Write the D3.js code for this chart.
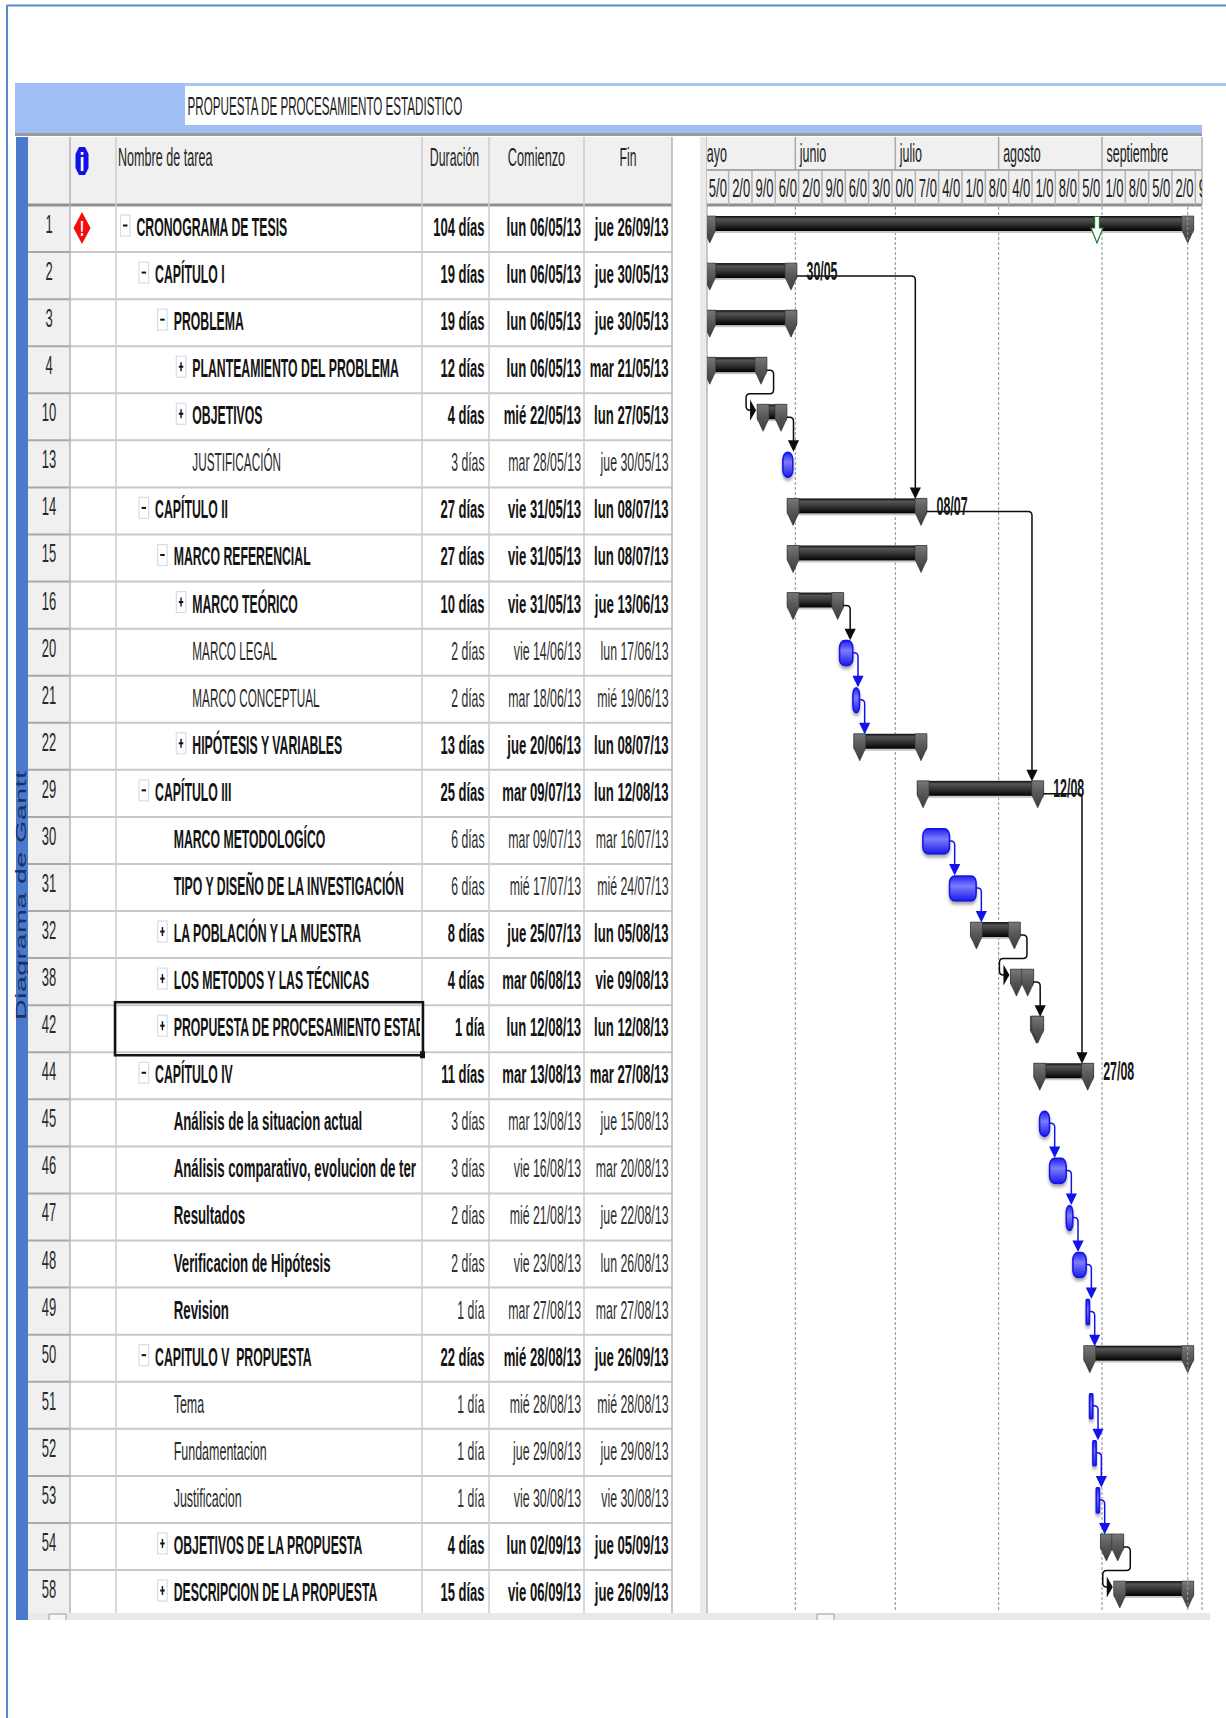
<!DOCTYPE html>
<html lang="es">
<head>
<meta charset="utf-8">
<title>Diagrama de Gantt</title>
<script src="https://cdn.jsdelivr.net/npm/d3@7/dist/d3.min.js"></script>
<style>
  html, body { margin: 0; background: #fff; }
  svg { display: block; }
  text { font-family: "Liberation Sans", Arial, sans-serif; }
</style>
</head>
<body>
<div id="chart"></div>
<script>
// Task table; two names are cut off by the width of their column
const taskIds = [1,2,3,4,10,13,14,15,16,20,21,22,29,30,31,32,38,42,44,45,46,47,48,49,50,51,52,53,54,58];
const taskNames = [
  "CRONOGRAMA DE TESIS","CAPÍTULO I","PROBLEMA","PLANTEAMIENTO DEL PROBLEMA","OBJETIVOS","JUSTIFICACIÓN",
  "CAPÍTULO II","MARCO REFERENCIAL","MARCO TEÓRICO","MARCO LEGAL","MARCO CONCEPTUAL","HIPÓTESIS Y VARIABLES",
  "CAPÍTULO III","MARCO METODOLOGÍCO","TIPO Y DISEÑO DE LA INVESTIGACIÓN","LA POBLACIÓN Y LA MUESTRA",
  "LOS METODOS Y LAS TÉCNICAS","PROPUESTA DE PROCESAMIENTO ESTAD","CAPÍTULO IV",
  "Análisis de la situacion actual","Análisis comparativo, evolucion de ter","Resultados",
  "Verificacion de Hipótesis","Revision","CAPITULO V\u00a0 PROPUESTA","Tema","Fundamentacion","Justificacion",
  "OBJETIVOS DE LA PROPUESTA","DESCRIPCION DE LA PROPUESTA"
];
const outlineLevels = [0,1,2,3,3,3,1,2,3,3,3,3,1,2,2,2,2,2,1,2,2,2,2,2,1,2,2,2,2,2];
const durations = [
  "104 días","19 días","19 días","12 días","4 días","3 días","27 días","27 días","10 días","2 días","2 días","13 días",
  "25 días","6 días","6 días","8 días","4 días","1 día","11 días","3 días","3 días","2 días","2 días","1 día",
  "22 días","1 día","1 día","1 día","4 días","15 días"
];
const startDates = [
  "lun 06/05/13","lun 06/05/13","lun 06/05/13","lun 06/05/13","mié 22/05/13","mar 28/05/13","vie 31/05/13","vie 31/05/13",
  "vie 31/05/13","vie 14/06/13","mar 18/06/13","jue 20/06/13","mar 09/07/13","mar 09/07/13","mié 17/07/13","jue 25/07/13",
  "mar 06/08/13","lun 12/08/13","mar 13/08/13","mar 13/08/13","vie 16/08/13","mié 21/08/13","vie 23/08/13","mar 27/08/13",
  "mié 28/08/13","mié 28/08/13","jue 29/08/13","vie 30/08/13","lun 02/09/13","vie 06/09/13"
];
const endDates = [
  "jue 26/09/13","jue 30/05/13","jue 30/05/13","mar 21/05/13","lun 27/05/13","jue 30/05/13","lun 08/07/13","lun 08/07/13",
  "jue 13/06/13","lun 17/06/13","mié 19/06/13","lun 08/07/13","lun 12/08/13","mar 16/07/13","mié 24/07/13","lun 05/08/13",
  "vie 09/08/13","lun 12/08/13","mar 27/08/13","jue 15/08/13","mar 20/08/13","jue 22/08/13","lun 26/08/13","mar 27/08/13",
  "jue 26/09/13","mié 28/08/13","jue 29/08/13","vie 30/08/13","jue 05/09/13","jue 26/09/13"
];
const summaryIds = [1,2,3,4,10,14,15,16,22,29,32,38,42,44,50,54,58];
const collapsedIds = [4,10,16,22,32,38,42,54,58];
const heavyNameIds = [30,31,45,46,47,48,49];
const mixedCaseIds = [45,46,47,48,49,51,52,53];
const finishLabelIds = [2,14,29,44];

// Dependency links
const linkFrom = [2,14,29, 4,10,16,20,21,30,31,32,38,45,46,47,48,49,51,52,53,54];
const linkTo   = [14,29,44,10,13,20,21,22,31,32,38,42,46,47,48,49,50,52,53,54,58];
const wrappedLinks = [[4,10],[32,38],[54,58]];
const longLinkSources = [2,14,29];

// Timescale
const deadlineDay = "30/08/13";
const projectFinishDay = "26/09/13";
const timelineStart = "01/06/13";
const timelineEnd = "01/10/13";
const monthNames = ["mayo","junio","julio","agosto","septiembre"];

// Table columns
const colEdges = {band0:16, band1:28, num:70, ind:116, name:422, dur:489, start:584, end:672, chart:707, chartEnd:1202};
const headTop = 137, headBottom = 205, rowStep = 47.07;
const TXT = 26;

const width = 1226, height = 1718;
const parseDay = d3.utcParse("%d/%m/%y");
const dayOf = s => parseDay(s.slice(-8));
const atHour = (d, h) => d3.utcHour.offset(d, h);

const x = d3.scaleUtc()
  .domain([parseDay(timelineStart), parseDay(timelineEnd)])
  .range([795.3, colEdges.chartEnd]);
const y = d3.scaleBand()
  .domain(taskIds)
  .range([headBottom, headBottom + rowStep * taskIds.length]);

const rows = taskIds.map((id, i) => ({
  id, i,
  name: taskNames[i], level: outlineLevels[i], dur: durations[i],
  startText: startDates[i], endText: endDates[i],
  start: atHour(dayOf(startDates[i]), 8),
  end: atHour(dayOf(endDates[i]), 17),
  summary: summaryIds.includes(id),
  collapsed: collapsedIds.includes(id)
}));
const byId = new Map(rows.map(r => [r.id, r]));

const svg = d3.select("#chart").append("svg").attr("width", width).attr("height", height)
  .attr("viewBox", `0 0 ${width} ${height}`);
const defs = svg.append("defs");

function gradient(id, stops) {
  const g = defs.append("linearGradient").attr("id", id).attr("x1", 0).attr("y1", 0).attr("x2", 0).attr("y2", 1);
  stops.forEach(([o, c]) => g.append("stop").attr("offset", o).attr("stop-color", c));
}
gradient("barBody", [[0,"#0a0a0a"],[0.2,"#555"],[0.55,"#333"],[0.85,"#111"],[1,"#000"]]);
gradient("barCap", [[0,"#777"],[0.5,"#555"],[1,"#3c3c3c"]]);
gradient("taskFill", [[0,"#2222ee"],[0.4,"#7c7cff"],[1,"#1a1ae6"]]);

const shadow = defs.append("filter").attr("id", "soft").attr("x", "-40%").attr("y", "-20%").attr("width", "180%").attr("height", "160%");
shadow.append("feDropShadow").attr("dx", 0).attr("dy", 3).attr("stdDeviation", 1.6).attr("flood-color", "#888").attr("flood-opacity", 0.7);

defs.append("clipPath").attr("id", "chartClip").append("rect")
  .attr("x", colEdges.chart).attr("y", headTop).attr("width", colEdges.chartEnd - colEdges.chart + 8).attr("height", height);
defs.append("clipPath").attr("id", "scaleClip").append("rect")
  .attr("x", colEdges.chart).attr("y", headTop).attr("width", colEdges.chartEnd - colEdges.chart).attr("height", headBottom - headTop);
defs.append("clipPath").attr("id", "nameClip").append("rect")
  .attr("x", colEdges.ind + 1).attr("y", headTop).attr("width", colEdges.name - colEdges.ind - 3).attr("height", height);

// Squeezed text: tall glyphs in narrow columns
function put(g, tx, ty, str, o = {}) {
  const weight = o.weight || 400;
  return g.append("text")
    .attr("transform", `translate(${tx},${ty}) scale(${o.sx || 0.46},1)`)
    .attr("text-anchor", o.anchor || "start")
    .attr("font-size", o.size || TXT)
    .attr("font-weight", weight)
    .attr("fill", o.fill || "#1c1c1c")
    .text(str);
}

// Window frame and title band
const frame = svg.append("g");
frame.append("line").attr("x1", 7).attr("x2", width).attr("y1", 5.5).attr("y2", 5.5).attr("stroke", "#5b8cc8").attr("stroke-width", 2);
frame.append("line").attr("x1", 7).attr("x2", 7).attr("y1", 5).attr("y2", height).attr("stroke", "#5b8cc8").attr("stroke-width", 2);
frame.append("rect").attr("x", 15).attr("y", 83).attr("width", 170).attr("height", 50).attr("fill", "#a0bff5");
frame.append("rect").attr("x", 185).attr("y", 83).attr("width", width - 185).attr("height", 3).attr("fill", "#a9c5f4");
frame.append("rect").attr("x", 185).attr("y", 125).attr("width", colEdges.chartEnd - 185).attr("height", 8).attr("fill", "#a0bff5");
frame.append("rect").attr("x", 15).attr("y", 133).attr("width", colEdges.chartEnd - 15).attr("height", 3).attr("fill", "#9a9a9a");
put(frame, 187.5, 115, "PROPUESTA DE PROCESAMIENTO ESTADISTICO", {sx: 0.448, fill: "#222"});

// Vertical view bar
frame.append("rect").attr("x", colEdges.band0).attr("y", headTop).attr("width", colEdges.band1 - colEdges.band0)
  .attr("height", 1620 - headTop).attr("fill", "#4a7acb");
frame.append("text")
  .attr("transform", "translate(25.5,1020) rotate(-90) scale(2.05,1)")
  .attr("font-size", 14).attr("fill", "#1a2f66").attr("letter-spacing", 0.2)
  .text("Diagrama de Gantt");

// Table
const table = svg.append("g");
const tableBottom = y.range()[1] + 1;
table.append("rect").attr("x", colEdges.band1).attr("y", headTop).attr("width", colEdges.end - colEdges.band1)
  .attr("height", headBottom - headTop).attr("fill", "#f0f0f0");
table.append("rect").attr("x", colEdges.band1).attr("y", headBottom).attr("width", colEdges.num - colEdges.band1)
  .attr("height", tableBottom - headBottom).attr("fill", "#f0f0f0");

const rowLines = table.selectAll(".rowline").data(rows.slice(1)).join("g");
rowLines.append("line").attr("x1", colEdges.num).attr("x2", colEdges.end)
  .attr("y1", d => y(d.id)).attr("y2", d => y(d.id)).attr("stroke", "#c9c9c9").attr("stroke-width", 2);
rowLines.append("line").attr("x1", colEdges.band1).attr("x2", colEdges.num)
  .attr("y1", d => y(d.id)).attr("y2", d => y(d.id)).attr("stroke", "#a8a8a8").attr("stroke-width", 2);
table.append("line").attr("x1", colEdges.band1).attr("x2", colEdges.end).attr("y1", headBottom).attr("y2", headBottom)
  .attr("stroke", "#8f8f8f").attr("stroke-width", 3);
[colEdges.num, colEdges.ind, colEdges.name, colEdges.dur, colEdges.start, colEdges.end].forEach((cx, k) => {
  table.append("line").attr("x1", cx).attr("x2", cx).attr("y1", headTop).attr("y2", tableBottom)
    .attr("stroke", k === 0 || k === 5 ? "#b4b4b4" : "#cccccc").attr("stroke-width", 1.5);
});

const columnHeads = [
  [118, "start", "Nombre de tarea", 0.485],
  [(colEdges.name + colEdges.dur) / 2 - 1, "middle", "Duración", 0.475],
  [(colEdges.dur + colEdges.start) / 2, "middle", "Comienzo", 0.49],
  [(colEdges.start + colEdges.end) / 2, "middle", "Fin", 0.47]
];
columnHeads.forEach(([hx, anchor, str, sx]) => put(table, hx, 166, str, {anchor, sx, fill: "#262626"}));

// Information column glyphs
const infoX = 82;
table.append("path")
  .attr("d", `M${infoX - 3},147 H${infoX + 3} L${infoX + 6.5},154 V168 L${infoX + 3},175 H${infoX - 3} L${infoX - 6.5},168 V154 Z`)
  .attr("fill", "#1212e6");
put(table, infoX, 171, "i", {anchor: "middle", weight: 700, size: 26, sx: 0.7, fill: "#fff"});
table.append("path").attr("d", `M${infoX},212 L${infoX + 8.5},228 L${infoX},244 L${infoX - 8.5},228 Z`).attr("fill", "#f40d0d");
put(table, infoX, 236, "!", {anchor: "middle", weight: 700, size: 22, sx: 0.6, fill: "#fff"});

// Table rows
const indent = 18.6;
const boxX = d => 120.5 + d.level * indent;
const textX = d => boxX(d) + 16;
const nameLayer = table.append("g").attr("clip-path", "url(#nameClip)");
rows.forEach(d => {
  const top = y(d.id), base = top + 31;
  const bold = d.summary;
  const weight = bold ? 700 : 400;
  const tone = bold ? "#141414" : "#303030";
  put(table, 49, top + 28, d.id, {anchor: "middle", sx: 0.5, fill: "#2a2a2a"});
  const heavy = bold || heavyNameIds.includes(d.id);
  const mixed = mixedCaseIds.includes(d.id);
  const nameSx = heavy ? (mixed ? 0.51 : 0.472) : (mixed ? 0.48 : 0.452);
  put(nameLayer, textX(d), base, d.name, {weight: heavy ? 700 : 400, sx: nameSx, fill: heavy ? "#141414" : "#2a2a2a"});
  put(table, 484.5, base, d.dur, {anchor: "end", weight, sx: bold ? 0.5 : 0.47, fill: tone});
  put(table, 581, base, d.startText, {anchor: "end", weight, sx: bold ? 0.505 : 0.475, fill: tone});
  put(table, 668.5, base, d.endText, {anchor: "end", weight, sx: bold ? 0.505 : 0.475, fill: tone});
  if (d.summary) {
    const bx = boxX(d);
    table.append("rect").attr("x", bx).attr("y", top + 10).attr("width", 9.5).attr("height", 21)
      .attr("fill", "#fff").attr("stroke", "#d3deec").attr("stroke-width", 1.2);
    table.append("line").attr("x1", bx + 2.5).attr("x2", bx + 7).attr("y1", top + 20.5).attr("y2", top + 20.5)
      .attr("stroke", "#111").attr("stroke-width", 2);
    if (d.collapsed) {
      table.append("line").attr("x1", bx + 4.75).attr("x2", bx + 4.75).attr("y1", top + 16).attr("y2", top + 25)
        .attr("stroke", "#111").attr("stroke-width", 1.4);
    }
  }
});

// Cell selection around the active task name
const active = byId.get(42);
table.append("rect").attr("x", colEdges.ind - 1).attr("y", y(active.id) - 3)
  .attr("width", colEdges.name - colEdges.ind + 2).attr("height", rowStep + 6)
  .attr("fill", "none").attr("stroke", "#141414").attr("stroke-width", 2.5);
table.append("rect").attr("x", colEdges.name - 2).attr("y", y(active.id) + rowStep - 1).attr("width", 5).attr("height", 7).attr("fill", "#141414");

// Splitter and bottom scroll strip
const chrome = svg.append("g");
chrome.append("rect").attr("x", 700).attr("y", headTop).attr("width", 6).attr("height", 1620 - headTop).attr("fill", "#eaeaea");
chrome.append("line").attr("x1", colEdges.chart).attr("x2", colEdges.chart).attr("y1", headTop).attr("y2", 1620)
  .attr("stroke", "#b5b5b5").attr("stroke-width", 1.5);
chrome.append("rect").attr("x", colEdges.band1).attr("y", 1613).attr("width", 1210 - colEdges.band1).attr("height", 7).attr("fill", "#e9e9e9");
[[49, 17], [817, 17]].forEach(([hx, hw]) => {
  chrome.append("path").attr("d", `M${hx},1620 V1614 H${hx + hw} V1620`).attr("fill", "#f6f6f6").attr("stroke", "#9e9e9e");
});

// Timescale header
const scaleHead = svg.append("g");
const left = colEdges.chart, right = colEdges.chartEnd;
scaleHead.append("rect").attr("x", left).attr("y", headTop).attr("width", right - left).attr("height", headBottom - headTop).attr("fill", "#f0f0f0");
scaleHead.append("line").attr("x1", left).attr("x2", right).attr("y1", 170).attr("y2", 170).attr("stroke", "#aaa").attr("stroke-width", 2);
scaleHead.append("line").attr("x1", left).attr("x2", right).attr("y1", headBottom).attr("y2", headBottom).attr("stroke", "#8f8f8f").attr("stroke-width", 3);
scaleHead.append("line").attr("x1", right).attr("x2", right).attr("y1", headTop).attr("y2", headBottom).attr("stroke", "#b4b4b4").attr("stroke-width", 1.5);

const scaleTexts = scaleHead.append("g").attr("clip-path", "url(#scaleClip)");
const monthStarts = d3.utcMonth.range(d3.utcDay.offset(parseDay("01/05/13"), -1), parseDay(timelineEnd));
monthStarts.forEach((m, k) => {
  if (k > 0) {
    scaleTexts.append("line").attr("x1", x(m)).attr("x2", x(m)).attr("y1", headTop).attr("y2", 170).attr("stroke", "#aaa").attr("stroke-width", 1.5);
  }
  put(scaleTexts, x(m) + 4.5, 162, monthNames[k], {sx: 0.48, fill: "#222"});
});

// Week cells are narrower than a whole dd/mm label, so only its middle shows
const weekStarts = d3.utcSunday.range(parseDay("05/05/13"), parseDay(timelineEnd));
const fmtWeek = d3.utcFormat("%d/%m");
weekStarts.forEach((w, k) => {
  const cellR = x(d3.utcDay.offset(w, 7));
  if (cellR < right) {
    scaleHead.append("line").attr("x1", cellR).attr("x2", cellR).attr("y1", 171).attr("y2", headBottom).attr("stroke", "#b4b4b4").attr("stroke-width", 1.5);
  }
  put(scaleTexts, x(w) + 3.5, 197, fmtWeek(w).slice(1, 4), {sx: 0.5, fill: "#222"});
});

// Chart body
const chart = svg.append("g").attr("clip-path", "url(#chartClip)");
const gridDays = d3.utcMonth.range(parseDay(timelineStart), d3.utcDay.offset(parseDay(timelineEnd), 1));
gridDays.forEach(g => {
  chart.append("line").attr("x1", x(g)).attr("x2", x(g)).attr("y1", headBottom + 2).attr("y2", 1612)
    .attr("stroke", "#8c8c8c").attr("stroke-dasharray", "3 2");
});
const finishX = x(atHour(parseDay(projectFinishDay), 17));
chart.append("line").attr("x1", finishX).attr("x2", finishX).attr("y1", headBottom + 2).attr("y2", 1612)
  .attr("stroke", "#8c8c8c").attr("stroke-dasharray", "3 2");

const barTop = d => y(d.id) + 11;
const linkColor = d => (d.summary ? "#0c0c0c" : "#1212ec");

function capPath(cx, top) {
  return `M${cx - 6},${top} H${cx + 6} V${top + 14} L${cx},${top + 27} L${cx - 6},${top + 14} Z`;
}

// Bars
rows.forEach(d => {
  const top = barTop(d), sx = x(d.start), ex = x(d.end);
  if (d.summary) {
    chart.append("rect").attr("x", sx - 6).attr("y", top + 15).attr("width", ex - sx + 12).attr("height", 2).attr("fill", "#c8c8c8");
    chart.append("rect").attr("x", sx - 6).attr("y", top).attr("width", ex - sx + 12).attr("height", 15).attr("fill", "url(#barBody)");
    [sx, ex].forEach(cx => {
      chart.append("path").attr("d", capPath(cx, top)).attr("fill", "url(#barCap)").attr("stroke", "#2e2e2e").attr("stroke-width", 0.6);
    });
  } else {
    const w = Math.max(ex - sx + 2, 2.8);
    chart.append("rect").attr("x", sx - 0.2).attr("y", top + 1).attr("width", w).attr("height", 25)
      .attr("rx", w < 4 ? 0.5 : Math.min(5, w / 2)).attr("ry", w < 4 ? 1 : 7)
      .attr("fill", "url(#taskFill)").attr("stroke", "#1414ea").attr("stroke-width", 1.6)
      .attr("filter", "url(#soft)");
  }
});

// Project finish marker drawn again, light, across the final caps
chart.append("line").attr("x1", finishX).attr("x2", finishX).attr("y1", headBottom + 2).attr("y2", 1612)
  .attr("stroke", "#bdbdbd").attr("stroke-dasharray", "3 2").attr("stroke-opacity", 0.65);

// Links
const curve = (pts, r = 3) => {
  let p = `M${pts[0][0]},${pts[0][1]}`;
  for (let i = 1; i < pts.length - 1; i++) {
    const [a, b, c] = [pts[i - 1], pts[i], pts[i + 1]];
    const ux = Math.sign(b[0] - a[0]), uy = Math.sign(b[1] - a[1]);
    const vx = Math.sign(c[0] - b[0]), vy = Math.sign(c[1] - b[1]);
    p += ` L${b[0] - ux * r},${b[1] - uy * r} Q${b[0]},${b[1]} ${b[0] + vx * r},${b[1] + vy * r}`;
  }
  const last = pts[pts.length - 1];
  return p + ` L${last[0]},${last[1]}`;
};

linkFrom.forEach((fromId, k) => {
  const a = byId.get(fromId), b = byId.get(linkTo[k]);
  const color = linkColor(a);
  const fromEnd = x(a.end);
  const startX = a.summary ? fromEnd + 6 : fromEnd + 2;
  const startY = barTop(a) + 13;
  const path = chart.append("path").attr("fill", "none").attr("stroke", color).attr("stroke-width", 1.5);
  const wrapped = wrappedLinks.some(([p, q]) => p === a.id && q === b.id);
  if (wrapped) {
    const outX = fromEnd + 12.6, backX = x(b.start) - 17, tipX = x(b.start) - 7;
    const midY = barTop(a) + 36.5, endY = barTop(b) + 6;
    path.attr("d", curve([[startX, startY], [outX, startY], [outX, midY], [backX, midY], [backX, endY], [tipX - 5, endY]], 4));
    chart.append("path").attr("d", `M${tipX - 6},${endY - 10.5} L${tipX},${endY} L${tipX - 6},${endY + 10.5} Z`).attr("fill", color);
  } else {
    let dropX;
    if (longLinkSources.includes(a.id)) dropX = x(b.end) - 5.7;
    else dropX = fromEnd + (a.summary ? 12.5 : 7);
    const tipY = barTop(b) + 0.5;
    path.attr("d", curve([[startX, startY], [dropX, startY], [dropX, tipY - 6]], 4));
    chart.append("path").attr("d", `M${dropX - 5.6},${tipY - 11.5} H${dropX + 5.6} L${dropX},${tipY} Z`).attr("fill", color);
  }
});

// Finish date labels
finishLabelIds.forEach(id => {
  const d = byId.get(id);
  put(chart, x(d.end) + 15.5, barTop(d) + 16.5, d3.utcFormat("%d/%m")(d.end), {weight: 700, sx: 0.477, fill: "#161616"});
});

// Deadline marker on the project summary row
const dx = x(atHour(parseDay(deadlineDay), 12));
const dt = barTop(rows[0]);
chart.append("path")
  .attr("d", `M${dx - 2.4},${dt + 0.5} H${dx + 2.4} V${dt + 12} H${dx + 6} L${dx},${dt + 27} L${dx - 6},${dt + 12} H${dx - 2.4} Z`)
  .attr("fill", "#fff").attr("stroke", "#1f7a2c").attr("stroke-width", 1.2);
</script>
</body>
</html>
